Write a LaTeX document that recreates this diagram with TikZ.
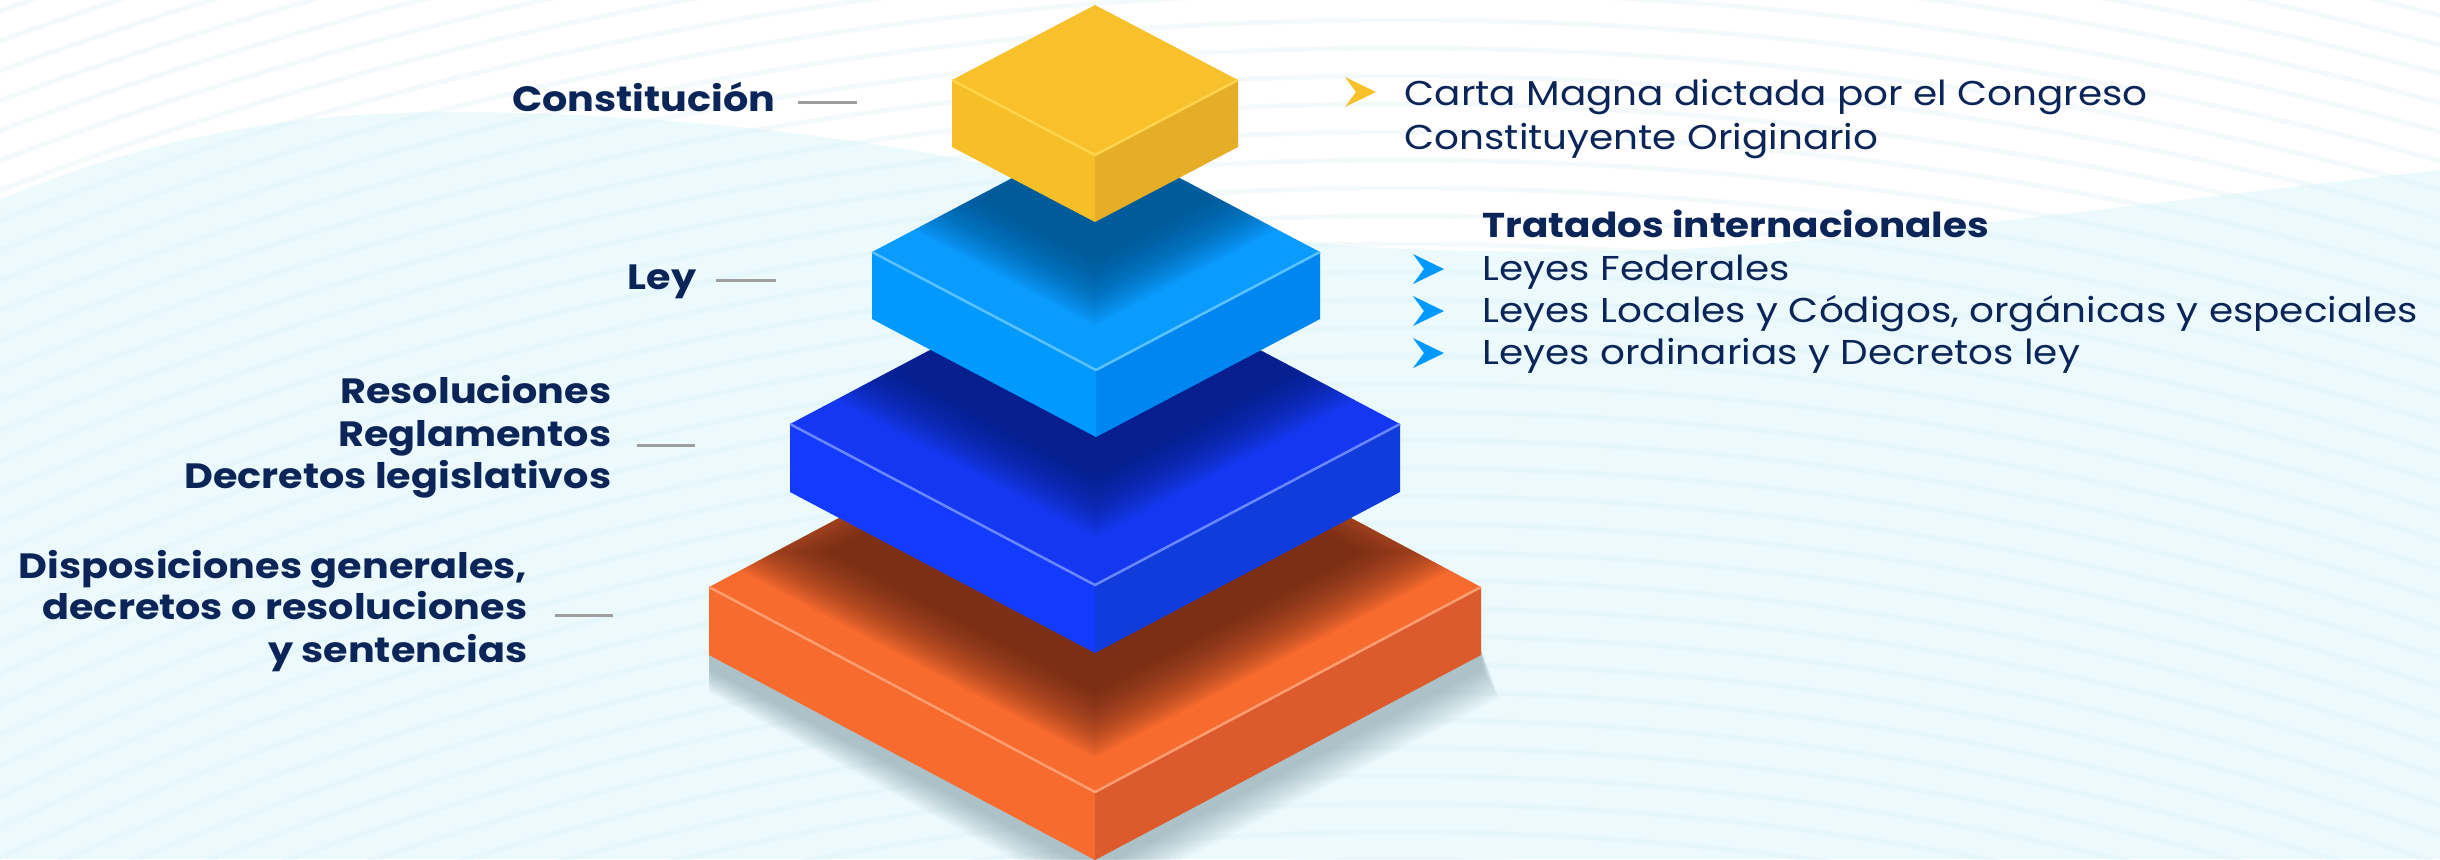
\documentclass[tikz,border=0pt]{standalone}
\usepackage{fontspec}
\setmainfont{Poppins}[FakeStretch=1.13]
\usetikzlibrary{positioning}

\definecolor{ink}{HTML}{0B2559}
\definecolor{tickgrey}{HTML}{9E9E9E}
\definecolor{bgcyan}{HTML}{ECFAFD}
\definecolor{stripe}{HTML}{D9F0F6}
\definecolor{floor}{HTML}{5F8088}
\definecolor{goldT}{HTML}{F8C12B}\definecolor{goldL}{HTML}{F7BF27}\definecolor{goldR}{HTML}{E5AE26}\definecolor{goldH}{HTML}{FFD44D}
\definecolor{skyT}{HTML}{0A9BFF}\definecolor{skyL}{HTML}{0099FF}\definecolor{skyR}{HTML}{0086F0}\definecolor{skyH}{HTML}{5CC2FF}\definecolor{skyS}{HTML}{00487A}
\definecolor{navyT}{HTML}{1438F2}\definecolor{navyL}{HTML}{133BFF}\definecolor{navyR}{HTML}{0F3CDB}\definecolor{navyH}{HTML}{6A87FF}\definecolor{navyS}{HTML}{061A6B}
\definecolor{coralT}{HTML}{F76B2E}\definecolor{coralL}{HTML}{F86B2F}\definecolor{coralR}{HTML}{DC5A2C}\definecolor{coralH}{HTML}{FF9E73}\definecolor{coralS}{HTML}{531D11}

% one slab: name, cx, cy, half width, half height, thickness
\newcommand{\slab}[6]{%
  \coordinate (#1-l) at ({#2-#4},#3);
  \coordinate (#1-r) at ({#2+#4},#3);
  \coordinate (#1-b) at (#2,{#3-#5});
  \coordinate (#1-f) at (#2,{#3+#5});
  \coordinate (#1-lb) at ({#2-#4},{#3+#6});
  \coordinate (#1-rb) at ({#2+#4},{#3+#6});
  \coordinate (#1-fb) at (#2,{#3+#5+#6});
  \fill[#1L] (#1-l) -- (#1-f) -- (#1-fb) -- (#1-lb) -- cycle;
  \fill[#1R] (#1-f) -- (#1-r) -- (#1-rb) -- (#1-fb) -- cycle;
  \fill[#1T] (#1-l) -- (#1-b) -- (#1-r) -- (#1-f) -- cycle;
}
% soft shadow of the slab above: name, cx, cy, half width, half height
\newcommand{\slabshade}[5]{%
  \begin{scope}
    \clip (#1-l) -- (#1-b) -- (#1-r) -- (#1-f) -- cycle;
    \foreach \g in {0,...,17}
      \fill[#1S, opacity=0.065] ({#2-#4-7*\g},#3) -- (#2,{#3-#5-3.7*\g})
        -- ({#2+#4+7*\g},#3) -- (#2,{#3+#5+3.7*\g}) -- cycle;
  \end{scope}
}
\newcommand{\slabedge}[1]{\draw[#1H, line width=0.025cm] (#1-l) -- (#1-f) -- (#1-r);}

\begin{document}
\begin{tikzpicture}[x=0.01cm, y=-0.01cm,
    every node/.style={inner sep=0pt, text=ink},
    tierlabel/.style={font=\fontsize{10}{12}\selectfont\bfseries},
    notetext/.style={font=\fontsize{9.8}{12}\selectfont},
    tick/.style={draw=tickgrey, line width=0.03cm},
    chev/.pic={\path[pic actions] (0,-15) -- (31,0) -- (0,15) -- (11,0) -- cycle;}
  ]
  \useasboundingbox (0,0) rectangle (2440,859);

  % Background
  \fill[bgcyan] (0,0) rectangle (2440,859);
  \fill[white] (0,0) -- (0,200) .. controls (150,135) and (300,112) .. (450,112)
    .. controls (650,112) and (850,135) .. (1000,167)
    .. controls (1150,200) and (1250,240) .. (1350,246)
    .. controls (1500,255) and (1650,252) .. (1750,245)
    .. controls (2000,225) and (2250,190) .. (2440,170) -- (2440,0) -- cycle;
  \begin{scope}
    \clip (0,0) rectangle (2440,859);
    \foreach \r in {3040,3068,...,4160}
      \draw[stripe, line width=0.05cm, opacity=0.28] (1400,3900) circle (\r);
  \end{scope}

  % Shadow on the floor
  \foreach \g in {1,...,12}
    \fill[floor, opacity=0.045] (709,650) -- (709,{668+2*\g})
      -- (1095,{868+3*\g}) -- ({1481+1.5*\g},{668+2.5*\g}) -- (1481,650) -- cycle;

  % Slabs
  \slab{coral}{1095}{587}{386}{205}{68}
  \slabshade{coral}{1095}{552}{270}{142}
  \slabedge{coral}
  \slab{navy}{1095}{424}{305}{161}{68}
  \slabshade{navy}{1096}{372}{194}{102}
  \slabedge{navy}
  \slab{sky}{1096}{252}{224}{118}{67}
  \slabshade{sky}{1095}{200}{118}{62}
  \slabedge{sky}
  \slab{gold}{1095}{80}{143}{75}{67}
  \slabedge{gold}

  % Labels
  \node (constit) [tierlabel, anchor=base east] at (776,111) {Constitución};
  \node (ley) [tierlabel, anchor=base east] at (697,289) {Ley};
  \node (resol) [tierlabel, anchor=base east] at (612,403) {Resoluciones};
  \node (regla) [tierlabel, anchor=base east] at ([yshift=-0.43cm]resol.base east) {Reglamentos};
  \node (decleg) [tierlabel, anchor=base east] at ([yshift=-0.42cm]regla.base east) {Decretos legislativos};
  \node (dispo) [tierlabel, anchor=base east] at (528,578) {Disposiciones generales,};
  \node (decres) [tierlabel, anchor=base east] at ([yshift=-0.41cm]dispo.base east) {decretos o resoluciones};
  \node (senten) [tierlabel, anchor=base east] at ([yshift=-0.43cm]decres.base east) {y sentencias};

  % Ticks
  \draw[tick] ([xshift=0.22cm, yshift=0.09cm]constit.base east) -- ++(59,0);
  \draw[tick] ([xshift=0.19cm, yshift=0.09cm]ley.base east) -- ++(60,0);
  \draw[tick] ([xshift=0.25cm, yshift=0.01cm]regla.base east) -- ++(58,0);
  \draw[tick] ([xshift=0.27cm, yshift=0.04cm]decres.base east) -- ++(58,0);

  % Notes
  \node (carta) [notetext, anchor=base west] at (1404,105) {Carta Magna dictada por el Congreso};
  \node (constit2) [notetext, anchor=base west] at ([yshift=-0.44cm]carta.base west) {Constituyente Originario};
  \node (tratados) [notetext, font=\fontsize{9.8}{12}\selectfont\bfseries, anchor=base west] at (1482,237) {Tratados internacionales};
  \node (federal) [notetext, anchor=base west] at ([yshift=-0.43cm]tratados.base west) {Leyes Federales};
  \node (locales) [notetext, anchor=base west] at ([yshift=-0.42cm]federal.base west) {Leyes Locales y Códigos, orgánicas y especiales};
  \node (ordin) [notetext, anchor=base west] at ([yshift=-0.42cm]locales.base west) {Leyes ordinarias y Decretos ley};

  % Bullets
  \pic[fill=goldT] at ([xshift=-0.59cm, yshift=0.13cm]carta.base west) {chev};
  \foreach \n in {federal, locales, ordin}
    \pic[fill=skyL] at ([xshift=-0.69cm, yshift=0.11cm]\n.base west) {chev};
\end{tikzpicture}
\end{document}
